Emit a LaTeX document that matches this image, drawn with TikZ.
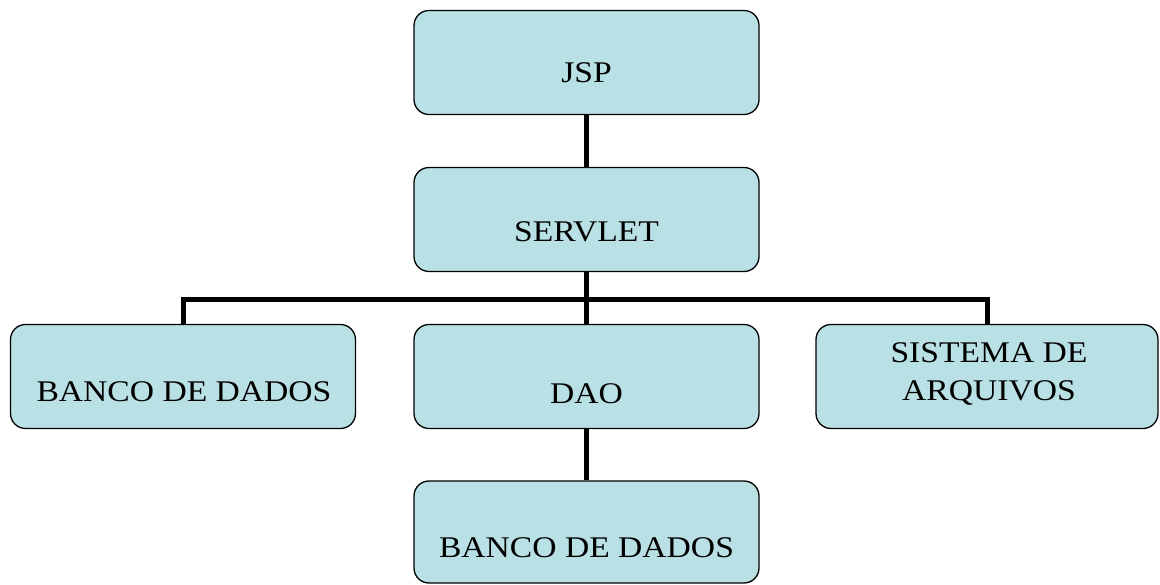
\documentclass[tikz,border=0pt]{standalone}
\usepackage{fontspec}
\setmainfont[FakeStretch=1.12]{Liberation Serif}
\definecolor{boxfill}{RGB}{185,224,228}
\tikzset{
  orgbox/.style={draw=black, line width=1.3pt, fill=boxfill, rounded corners=15pt,
    minimum width=345pt, minimum height=104pt, inner sep=0pt},
  lbl/.style={inner sep=0pt, anchor=base, font=\fontsize{30}{39}\selectfont, align=center},
  conn/.style={line width=5pt, draw=black}
}
\begin{document}
\begin{tikzpicture}[x=1pt,y=-1pt]
\useasboundingbox (0,0) rectangle (1160,585);
\node[orgbox] (jsp) at (586.5,62.5) {};
\node[orgbox] (servlet) at (586.5,219.5) {};
\node[orgbox] (banco1) at (183,376.5) {};
\node[orgbox] (dao) at (586.5,376.5) {};
\node[orgbox, minimum width=342pt] (sis) at (987,376.5) {};
\node[orgbox, minimum height=102pt] (banco2) at (586.5,532) {};
\node[lbl] (tjsp) at (586.5,83) {JSP};
\node[lbl] (tservlet) at (586.5,242) {SERVLET};
\node[lbl] (tbanco1) at (184,402) {BANCO DE DADOS};
\node[lbl] (tdao) at (586.5,403) {DAO};
\node[lbl] (tsis) at (989,401) {SISTEMA DE\\ARQUIVOS};
\node[lbl] (tbanco2) at (586.5,557.5) {BANCO DE DADOS};
\coordinate (bar) at (586.5,300);
\draw[conn] (jsp.south) -- (servlet.north);
\draw[conn] (servlet.south) -- (dao.north);
\draw[conn] (banco1.north) |- (bar) -| (sis.north);
\draw[conn] (dao.south) -- (banco2.north);
\end{tikzpicture}
\end{document}
